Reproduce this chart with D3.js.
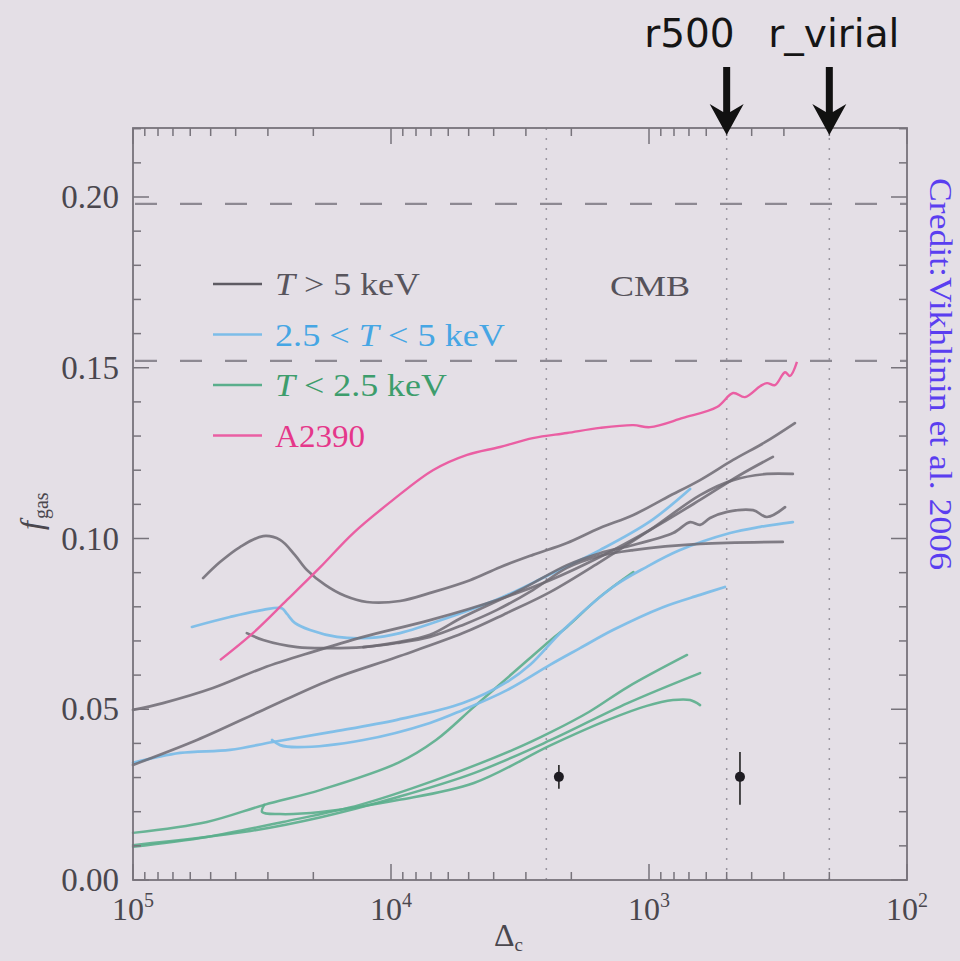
<!DOCTYPE html>
<html><head><meta charset="utf-8">
<script src="https://cdn.jsdelivr.net/npm/d3@7"></script>
<style>html,body{margin:0;padding:0;background:#e4dfe6;} svg{display:block;}</style>
</head><body><svg id="c" width="960" height="961"></svg>
<script>
// ---------- DATA : [Delta_c, f_gas] ----------
const hotCurves = [  // T > 5 keV
  [[53500,0.0884],[46000,0.0931],[38500,0.0975],[31300,0.1007],[26900,0.0996],[23600,0.0952],[21200,0.0908],[18000,0.0864],[15100,0.0832],[12400,0.0814],[9230,0.0817],[6880,0.0843],[4940,0.0878],[3780,0.0916],[2820,0.0952],[2080,0.0987],[1550,0.1031],[1150,0.1069],[851,0.1121],[634,0.1171],[472,0.1230],[355,0.1282],[272,0.1338]],
  [[100000,0.0498],[76500,0.0518],[49000,0.0562],[31300,0.0621],[20100,0.0668],[12800,0.0712],[7060,0.0761],[3880,0.0820],[2420,0.0878],[1550,0.0946],[991,0.1025],[634,0.1113],[444,0.1186],[331,0.1239]],
  [[100000,0.0337],[56500,0.0410],[31300,0.0498],[17200,0.0586],[9480,0.0653],[5260,0.0723],[3550,0.0782],[2420,0.0843],[1550,0.0931],[991,0.1025],[634,0.1127],[472,0.1171],[349,0.1189],[277,0.1189]],
  [[36200,0.0723],[31300,0.0703],[23100,0.0682],[17200,0.0679],[12800,0.0682],[9480,0.0694],[7060,0.0712],[5260,0.0747],[3880,0.0791],[2820,0.0849],[2080,0.0914],[1550,0.0949],[1150,0.0966],[634,0.0984],[303,0.0990]],
  [[12800,0.0682],[9480,0.0696],[7060,0.0718],[5260,0.0770],[3160,0.0849],[2080,0.0922],[1550,0.0957],[1150,0.0981],[807,0.1016],[693,0.1048],[634,0.1040],[580,0.1060],[498,0.1078],[395,0.1083],[349,0.1063],[297,0.1092]]
];
const warmCurves = [ // 2.5 < T < 5 keV
  [[59100,0.0741],[42100,0.0770],[31300,0.0791],[26500,0.0796],[25300,0.0779],[23600,0.0753],[20600,0.0732],[16200,0.0712],[12100,0.0709],[9230,0.0723],[5910,0.0770],[3780,0.0825],[2490,0.0890],[1550,0.0966],[991,0.1050],[693,0.1145]],
  [[100000,0.0343],[65700,0.0372],[42100,0.0381],[28700,0.0404],[17200,0.0433],[9480,0.0469],[5260,0.0518],[3550,0.0580],[2890,0.0630],[2150,0.0732],[1380,0.0858],[1020,0.0917],[758,0.0966],[485,0.1016],[371,0.1034],[277,0.1048]],
  [[28900,0.0410],[26900,0.0395],[23100,0.0389],[12800,0.0410],[7060,0.0460],[5260,0.0498],[3550,0.0556],[2420,0.0630],[1850,0.0679],[1380,0.0732],[883,0.0799],[634,0.0835],[508,0.0858]]
];
const coolCurves = [ // T < 2.5 keV
  [[100000,0.0138],[51700,0.0170],[31000,0.0220],[18700,0.0264],[9400,0.0343],[6690,0.0410],[4770,0.0507],[3370,0.0606],[2400,0.0703],[2080,0.0741],[1550,0.0829],[1150,0.0902]],
  [[100000,0.0097],[51700,0.0126],[26200,0.0170],[13200,0.0220],[6690,0.0293],[3370,0.0381],[2400,0.0433],[1710,0.0492],[1210,0.0565],[712,0.0659]],
  [[100000,0.0102],[36800,0.0141],[18700,0.0184],[9400,0.0243],[4770,0.0313],[2400,0.0410],[1210,0.0518],[634,0.0606]],
  [[31000,0.0220],[31600,0.0199],[26900,0.0193],[18700,0.0199],[9400,0.0234],[4770,0.0284],[2400,0.0395],[1440,0.0469],[1020,0.0510],[807,0.0527],[693,0.0527],[634,0.0512]]
];
const a2390 = [[46000,0.0644],[34300,0.0723],[25300,0.0820],[18800,0.0916],[14000,0.1016],[9820,0.1113],[6880,0.1200],[5070,0.1245],[3780,0.1268],[2820,0.1294],[2080,0.1309],[1550,0.1324],[1150,0.1332],[991,0.1326],[738,0.1353],[545,0.1385],[472,0.1426],[425,0.1414],[371,0.1446],[349,0.1455],[325,0.1449],[297,0.1487],[284,0.1476],[267,0.1517]];
const errPoints = [ {d:2235, f:0.0302, lo:0.0267, hi:0.0337}, {d:444, f:0.0302, lo:0.0220, hi:0.0375} ];
const cmbLevels = [0.198, 0.152];
const overdensityLines = [2500, 500, 200];
const radiusArrows = [ {label:"r500", d:500, anchor:"end", dx:8}, {label:"r_virial", d:200, anchor:"start", dx:-61} ];
const xTickValues = [1e5, 1e4, 1e3, 1e2];
const xTickExp = ["5","4","3","2"];
const yTickValues = [0, 0.05, 0.10, 0.15, 0.20];
const yTickLabels = ["0.00","0.05","0.10","0.15","0.20"];
const legendItems = [
  {parts:[["T","italic"],[" > 5 keV",""]], color:"#5e5b63", text:"#58555d", w:145},
  {parts:[["2.5 < ",""],["T","italic"],[" < 5 keV",""]], color:"#7cbde8", text:"#46a6e4", w:230},
  {parts:[["T","italic"],[" < 2.5 keV",""]], color:"#5aae8c", text:"#3d9d6c", w:172},
  {parts:[["A2390",""]], color:"#ea5fa3", text:"#e5378a", w:90}
];

// ---------- DRAW ----------
const svg = d3.select("#c");
const W = 960, H = 961;
const L = 133, R = 907, T = 128, B = 880;
const x = d3.scaleLog().domain([1e5, 1e2]).range([L, R]);
const y = d3.scaleLinear().domain([0, 0.22]).range([B, B - 0.22*3415]);
const serif = "Liberation Serif, Times New Roman, serif";
const axisCol = "#77737b";

svg.append("rect").attr("width", W).attr("height", H).attr("fill", "#e4dfe6");

// dotted verticals
svg.selectAll(".vd").data(overdensityLines).enter().append("line")
  .attr("x1", d=>x(d)).attr("x2", d=>x(d)).attr("y1", T).attr("y2", B)
  .attr("stroke", "#9a96a0").attr("stroke-width", 1.5).attr("stroke-dasharray", "2,8");

// dashed horizontals
svg.selectAll(".hd").data(cmbLevels).enter().append("line")
  .attr("x1", L).attr("x2", R).attr("y1", d=>y(d)).attr("y2", d=>y(d))
  .attr("stroke", "#8d8992").attr("stroke-width", 2.2).attr("stroke-dasharray", "22,23").attr("stroke-dashoffset", -2);

// curves
const line = d3.line().x(d=>x(d[0])).y(d=>y(d[1])).curve(d3.curveCatmullRom.alpha(0.5));
function drawSet(set, color, w, op){
  svg.append("g").selectAll("path").data(set).enter().append("path")
    .attr("d", line).attr("fill", "none").attr("stroke", color)
    .attr("stroke-width", w).attr("stroke-opacity", op).attr("stroke-linejoin","round").attr("stroke-linecap","round");
}
drawSet(coolCurves, "#5aae8c", 2.5, 0.9);
drawSet(warmCurves, "#7cbde8", 2.7, 0.95);
drawSet(hotCurves, "#6d6a72", 2.7, 0.85);
svg.append("path").datum(a2390).attr("d", line).attr("fill","none")
  .attr("stroke","#ea5fa3").attr("stroke-width",2.4).attr("stroke-linejoin","round");

// error points
const eg = svg.append("g");
eg.selectAll("line").data(errPoints).enter().append("line")
  .attr("x1", d=>x(d.d)).attr("x2", d=>x(d.d)).attr("y1", d=>y(d.lo)).attr("y2", d=>y(d.hi))
  .attr("stroke", "#222").attr("stroke-width", 1.6);
eg.selectAll("circle").data(errPoints).enter().append("circle")
  .attr("cx", d=>x(d.d)).attr("cy", d=>y(d.f)).attr("r", 5).attr("fill", "#1e1c22");

// frame
svg.append("rect").attr("x", L).attr("y", T).attr("width", R-L).attr("height", B-T)
  .attr("fill","none").attr("stroke", axisCol).attr("stroke-width", 1.8);

// x ticks (log, inward on bottom and top)
const xt = x.ticks();
const isMajor = v => Math.abs(Math.log10(v) - Math.round(Math.log10(v))) < 1e-6;
const tg = svg.append("g").attr("stroke", axisCol).attr("stroke-width", 1.5);
xt.forEach(v => {
  const len = isMajor(v) ? 16 : 8;
  const px = x(v);
  tg.append("line").attr("x1",px).attr("x2",px).attr("y1",B).attr("y2",B-len);
  tg.append("line").attr("x1",px).attr("x2",px).attr("y1",T).attr("y2",T+len);
});
// y ticks
d3.range(0, 23).forEach(i => {
  const v = i/100;
  const len = (i % 5 === 0) ? 16 : 8;
  const py = y(v);
  tg.append("line").attr("x1",L).attr("x2",L+len).attr("y1",py).attr("y2",py);
  tg.append("line").attr("x1",R).attr("x2",R-len).attr("y1",py).attr("y2",py);
});

// x tick labels
const xl = svg.append("g").attr("font-family", serif).attr("fill", "#4a474e");
xTickValues.forEach((v,i) => {
  const t = xl.append("text").attr("x", x(v)).attr("y", 920).attr("text-anchor","middle").attr("font-size", 32);
  t.append("tspan").text("10");
  t.append("tspan").attr("font-size", 20).attr("dy", -13).text(xTickExp[i]);
});
// y tick labels
svg.append("g").attr("font-family", serif).attr("fill", "#4a474e")
  .selectAll("text").data(yTickValues).enter().append("text")
  .attr("x", 119).attr("y", d=>y(d)+11).attr("text-anchor","end").attr("font-size", 33)
  .text((d,i)=>yTickLabels[i]);

// axis titles
const xTitle = svg.append("text").attr("x", 494).attr("y", 946).attr("font-family", serif).attr("font-size", 32).attr("fill","#4a474e");
xTitle.append("tspan").text("Δ");
xTitle.append("tspan").attr("font-size", 19).attr("dy", 5).text("c");
const yTitle = svg.append("text").attr("transform", "translate(42,530) rotate(-90)").attr("font-family", serif).attr("font-size", 32).attr("fill","#4a474e");
yTitle.append("tspan").attr("font-style","italic").text("f");
yTitle.append("tspan").attr("font-size", 20).attr("dy", 6).attr("dx", 2).text("gas");

// legend
const lg = svg.append("g");
legendItems.forEach((it, i) => {
  const ly = 284 + i*50.5;
  lg.append("line").attr("x1", 213).attr("x2", 262).attr("y1", ly).attr("y2", ly)
    .attr("stroke", it.color).attr("stroke-width", 2.6);
  const t = lg.append("text").attr("x", 275).attr("y", ly + 11).attr("font-family", serif)
    .attr("font-size", 31).attr("fill", it.text)
    .attr("textLength", it.w).attr("lengthAdjust", "spacingAndGlyphs");
  it.parts.forEach(p => {
    const s = t.append("tspan").text(p[0]).attr("xml:space","preserve");
    if (p[1]) s.attr("font-style", p[1]);
  });
});

// CMB label
svg.append("text").attr("x", 610).attr("y", 296)
  .attr("font-family", serif).attr("font-size", 30).attr("fill", "#55525a")
  .attr("textLength", 80).attr("lengthAdjust", "spacingAndGlyphs").text("CMB");

// credit
svg.append("text").attr("transform", "translate(930,178) rotate(90)")
  .attr("font-family", serif).attr("font-size", 31).attr("fill", "#5a3ef0")
  .attr("textLength", 392).attr("lengthAdjust", "spacingAndGlyphs")
  .text("Credit:Vikhlinin et al. 2006");

// radius arrows and labels
radiusArrows.forEach(a => {
  const cx = x(a.d);
  svg.append("path")
    .attr("d", `M${cx-3.5},67 L${cx+3.5},67 L${cx+3.5},112 L${cx+17},104 L${cx},135 L${cx-17},104 L${cx-3.5},112 Z`)
    .attr("fill", "#111");
  svg.append("text").attr("x", cx + a.dx).attr("y", 47).attr("text-anchor", a.anchor)
    .attr("font-family", "DejaVu Sans, sans-serif").attr("font-size", 39).attr("fill", "#151515")
    .text(a.label);
});
</script></body></html>
